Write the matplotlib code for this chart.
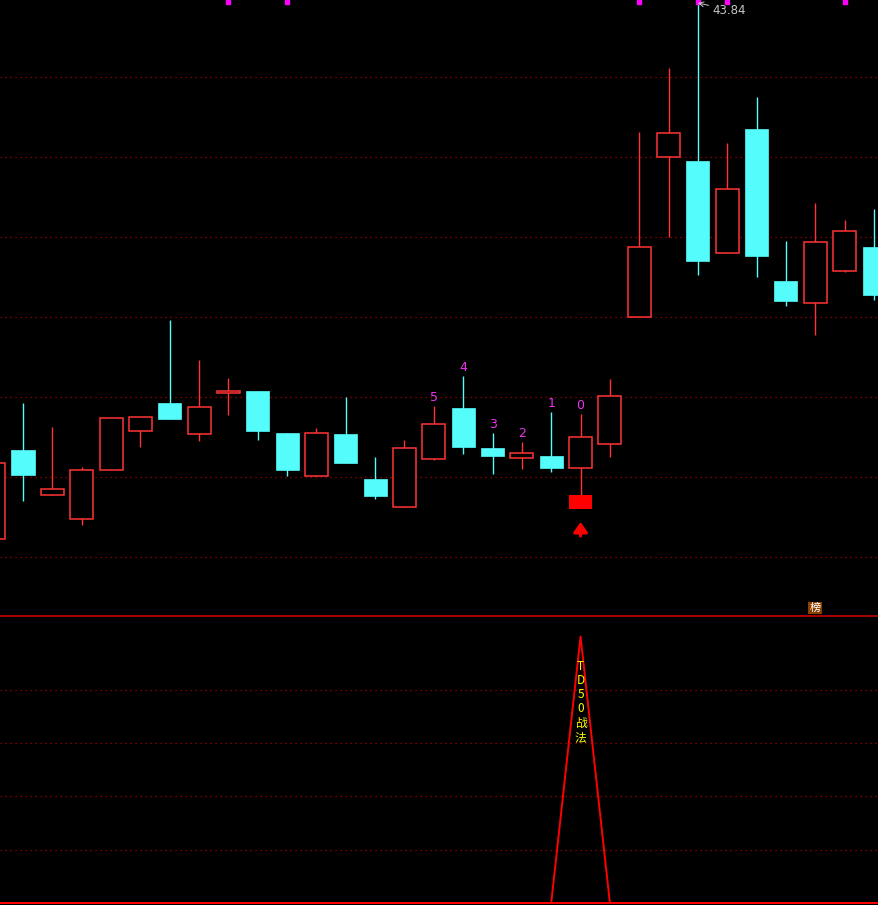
#recreating the TD50 candlestick chart
import numpy as np
import matplotlib.pyplot as plt
from matplotlib.transforms import blended_transform_factory

plt.rcParams['font.family'] = ['Noto Sans CJK SC', 'DejaVu Sans']

#candle data
opens  = [33.12, 34.90, 34.00, 33.52, 34.50, 35.28, 35.84, 35.22, 36.04, 36.08, 35.24,
          34.38, 35.22, 34.32, 33.76, 34.72, 35.74, 34.94, 34.74, 34.78, 34.54, 35.02,
          37.56, 40.76, 40.68, 38.84, 41.32, 38.28, 37.84, 38.48, 38.96]
highs  = [34.74, 35.84, 35.36, 34.56, 35.54, 35.56, 37.50, 36.70, 36.34, 36.08, 35.24,
          35.34, 35.96, 34.76, 35.10, 35.78, 36.38, 35.24, 35.06, 35.66, 35.62, 36.32,
          41.26, 42.54, 43.84, 41.04, 41.96, 39.08, 39.84, 39.50, 39.72]
lows   = [33.00, 33.88, 34.00, 33.40, 34.50, 34.96, 35.52, 35.08, 35.60, 35.10, 34.38,
          34.38, 34.64, 33.92, 33.76, 34.70, 34.82, 34.42, 34.52, 34.46, 34.00, 34.76,
          37.56, 39.16, 38.40, 38.84, 38.36, 37.78, 37.20, 38.46, 37.90]
closes = [34.64, 34.40, 34.12, 34.50, 35.54, 35.56, 35.52, 35.76, 36.08, 35.28, 34.50,
          35.24, 34.64, 33.98, 34.94, 35.42, 34.96, 34.78, 34.84, 34.54, 35.16, 35.98,
          38.96, 41.24, 38.68, 40.12, 38.78, 37.88, 39.06, 39.28, 38.00]

#countdown labels and signals
count_idx = [15, 16, 17, 18, 19, 20]
count_txt = ['5', '4', '3', '2', '1', '0']
dot_idx = [8, 10, 22, 24, 25, 29]
buy_idx = 20
buy_box = (33.72, 34.00)
buy_arrow = (33.18, 33.46)

#lower indicator
td_vals = [0] * 31
td_vals[20] = 100

n = len(opens)
x = np.arange(n)
opens = np.array(opens)
closes = np.array(closes)
highs = np.array(highs)
lows = np.array(lows)

up_col = '#ff3333'
down_col = '#54fcfc'
grid_col = '#b00000'

fig = plt.figure(figsize=(8.79, 9.05), dpi=100, facecolor='black')
ax = fig.add_axes([0, 289 / 905, 1, 616 / 905], facecolor='black')
ax2 = fig.add_axes([0, 0, 1, 289 / 905], facecolor='black')

xlim = (1 - 23 / 29.345, 1 + 856 / 29.345)
for a in (ax, ax2):
    a.set_xlim(*xlim)
    a.set_xticks([])
    for s in a.spines.values():
        s.set_visible(False)

ax.set_ylim(31.58, 43.90)
ax.set_yticks([])
#dotted grid lines every 80 px
for g in 43.90 - 0.02 * np.arange(77, 600, 80):
    ax.axhline(g, color=grid_col, lw=0.9, ls=(0, (1, 3)), zorder=0)

up = closes >= opens
w = 0.784
body_lo = np.minimum(opens, closes)
body_hi = np.maximum(opens, closes)

#wicks
ax.vlines(x[up], lows[up], highs[up], color=up_col, lw=1.0, zorder=1)
ax.vlines(x[~up], lows[~up], highs[~up], color=down_col, lw=1.0, zorder=1)

#bodies, hollow red and filled cyan
ax.bar(x[up], body_hi[up] - body_lo[up], w, bottom=body_lo[up], facecolor='black',
       edgecolor=up_col, linewidth=1.1, zorder=2)
ax.bar(x[~up], body_hi[~up] - body_lo[~up], w, bottom=body_lo[~up], facecolor=down_col,
       edgecolor=down_col, linewidth=0.5, zorder=2)

#countdown numbers
for i, t in zip(count_idx, count_txt):
    ax.annotate(t, (i, highs[i]), xytext=(0, 1.5), textcoords='offset points',
                ha='center', va='bottom', color='#ee33ee', fontsize=9,
                family='DejaVu Sans')

#buy marker
ax.bar(buy_idx, buy_box[1] - buy_box[0], w, bottom=buy_box[0], color='#ff0000', zorder=2)
ax.annotate('', xy=(buy_idx, buy_arrow[1]), xytext=(buy_idx, buy_arrow[0]),
            arrowprops=dict(arrowstyle='-|>,head_length=0.5,head_width=0.35',
                            color='#ff0000', lw=2.2, mutation_scale=12,
                            shrinkA=0, shrinkB=0))

#magenta dots on top
tr = blended_transform_factory(ax.transData, ax.transAxes)
ax.plot(dot_idx, [0.996] * len(dot_idx), 's', color='#ff00ff', ms=2.4,
        transform=tr, clip_on=False)

#high price label
ax.annotate('43.84', xy=(24, highs[24]), xytext=(24.5, 43.70), color='#c8c8c8',
            fontsize=8.5, va='center', ha='left', family='DejaVu Sans',
            arrowprops=dict(arrowstyle='->', color='#c8c8c8', lw=0.7,
                            shrinkA=1, shrinkB=0))

#lower panel
ax2.set_ylim(-0.75, 107.7)
ax2.set_yticks([])
for g in [20, 40, 60, 80]:
    ax2.axhline(g, color=grid_col, lw=0.9, ls=(0, (1, 3)), zorder=0)
ax2.axhline(107.7, color='#cc0000', lw=1.2, clip_on=False)
ax2.axhline(0, color='#ff0000', lw=1.4)
ax2.plot(x, td_vals, color='#ff0000', lw=1.4)
ax2.text(20, 75.5, 'T\nD\n5\n0\n战\n法', ha='center', va='center', color='#ffff00',
         fontsize=8.5, linespacing=1.12)

#rank badge
fig.text(815 / 879, 1 - 608 / 905, '榜', color='white', fontsize=8, ha='center',
         va='center', bbox=dict(boxstyle='square,pad=0.1', facecolor='#8a4000',
                                edgecolor='none'))

fig.savefig('out.png', dpi=100, facecolor='black')
